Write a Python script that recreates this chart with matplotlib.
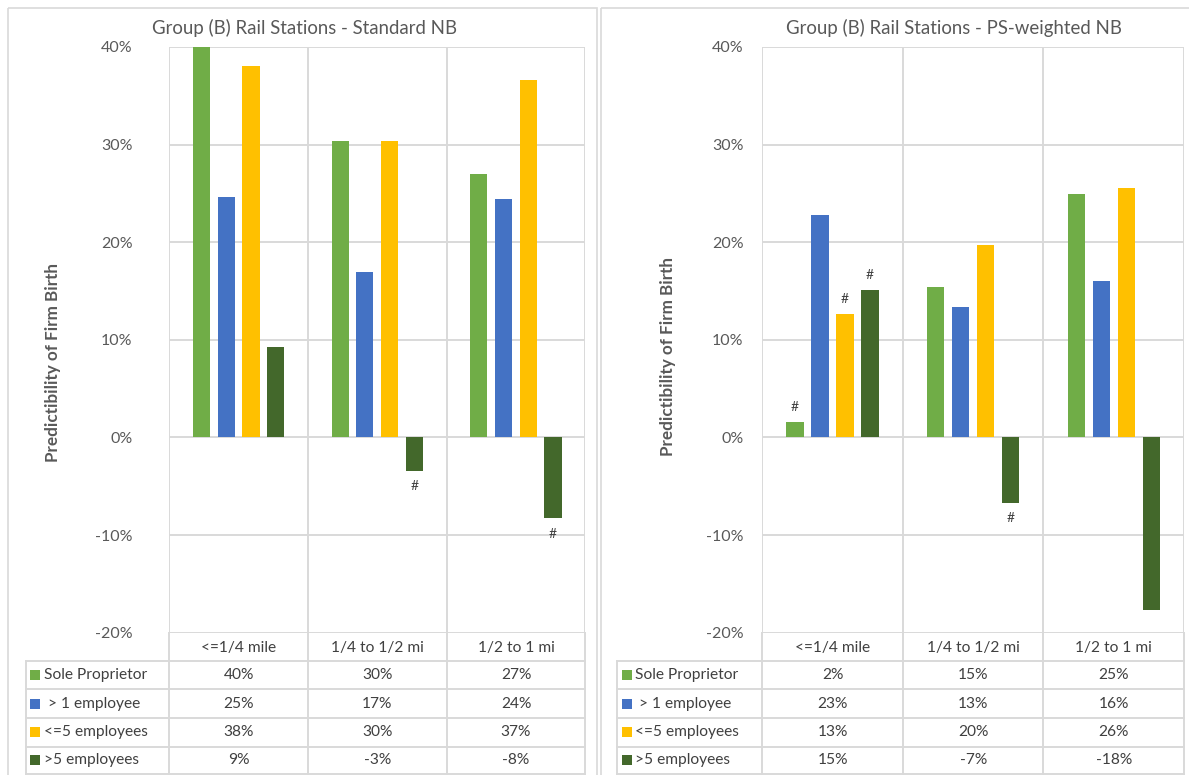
import matplotlib
matplotlib.use("Agg")
import matplotlib.pyplot as plt
from matplotlib.patches import Rectangle

# Datos (puntos porcentuales)
categories = ["<=1/4 mile", "1/4 to 1/2 mi", "1/2 to 1 mi"]
series_names = ["Sole Proprietor", " > 1 employee", "<=5 employees", ">5 employees"]
series_colors = ["#70AD47", "#4472C4", "#FFC000", "#43682B"]

# Panel izquierdo: Standard NB
std_sole = [40.0, 30.4, 27.0]
std_gt1 = [24.6, 17.0, 24.4]
std_le5 = [38.1, 30.4, 36.6]
std_gt5 = [9.3, -3.4, -8.3]
std_hash = [[False, False, False], [False, False, False],
            [False, False, False], [False, True, True]]

# Panel derecho: PS-weighted NB
ps_sole = [1.6, 15.4, 24.9]
ps_gt1 = [22.8, 13.4, 16.0]
ps_le5 = [12.6, 19.7, 25.6]
ps_gt5 = [15.1, -6.7, -17.7]
ps_hash = [[True, False, False], [False, False, False],
           [True, False, False], [True, True, False]]

W, H = 1189, 775
GRID = "#D9D9D9"
TXT = "#595959"
TBL = "#404040"
plt.rcParams["font.family"] = ["Lato", "DejaVu Sans"]

fig = plt.figure(figsize=(W / 100, H / 100), dpi=100)

# Capa de fondo en pixeles para bordes, tabla y titulos
bg = fig.add_axes([0, 0, 1, 1])
bg.set_xlim(0, W)
bg.set_ylim(H, 0)
bg.axis("off")


def px_rect(x0, y_top, x1, y_bot):
    return [x0 / W, 1 - y_bot / H, (x1 - x0) / W, (y_bot - y_top) / H]


Y_TOP, Y_BOT = 47, 632.7
ROWS = [661, 689.3, 718, 746.7, 774]
PITCH, BAR_W = 0.178, 0.123


def panel(frame_x, plot_x0, plot_x1, legend_x0, title, title_x, ylab_x, ylab_y,
          tick_pad, data, hashes):
    # marco del grafico
    bg.add_patch(Rectangle((frame_x[0], 8), frame_x[1] - frame_x[0], H + 10,
                           fill=False, ec=GRID, lw=1.2))
    bg.text(title_x, 28, title, ha="center", va="center", fontsize=13.4, color=TXT)
    bg.text(ylab_x, ylab_y, "Predictibility of Firm Birth", rotation=90,
            ha="center", va="center", fontsize=12.3, fontweight="bold", color=TXT)

    ax = fig.add_axes(px_rect(plot_x0, Y_TOP, plot_x1, Y_BOT))
    ax.set_xlim(0, 3)
    ax.set_ylim(-20, 40)
    ax.set_yticks(range(-20, 41, 10))
    ax.set_yticklabels([f"{t}%" for t in range(-20, 41, 10)], fontsize=11.5, color=TXT)
    ax.set_xticks([0, 1, 2, 3])
    ax.set_xticklabels([])
    ax.tick_params(length=0, pad=tick_pad)
    ax.grid(True, color=GRID, lw=1.4)
    ax.set_axisbelow(True)
    for s in ax.spines.values():
        s.set_visible(False)

    for k, (vals, color, flags) in enumerate(zip(data, series_colors, hashes)):
        xs = [i + 0.5 + (k - 1.5) * PITCH for i in range(len(categories))]
        ax.bar(xs, vals, width=BAR_W, color=color, zorder=3)
        for x, v, f in zip(xs, vals, flags):
            if f:
                ax.annotate("#", (x, v), xytext=(0, 11 if v > 0 else -11),
                            textcoords="offset points", ha="center", va="center",
                            fontsize=10, color=TBL)

    # tabla de datos debajo del grafico
    col_w = (plot_x1 - plot_x0) / 3
    bounds = [plot_x0 + i * col_w for i in range(4)]
    for x in bounds:
        bg.plot([x, x], [Y_BOT, H], color=GRID, lw=1.4)
    bg.plot([legend_x0, legend_x0], [ROWS[0], H], color=GRID, lw=1.4)
    for y in ROWS:
        bg.plot([legend_x0, plot_x1], [y, y], color=GRID, lw=1.4)
    for i, c in enumerate(categories):
        bg.text(bounds[i] + col_w / 2, (Y_BOT + ROWS[0]) / 2 + 1, c, ha="center",
                va="center", fontsize=11.2, color=TBL)
    for r, (name, color, vals) in enumerate(zip(series_names, series_colors, data)):
        yc = (ROWS[r] + ROWS[r + 1]) / 2
        bg.add_patch(Rectangle((legend_x0 + 4.5, yc - 5), 10, 10, color=color, lw=0))
        bg.text(legend_x0 + 18, yc, name, ha="left", va="center", fontsize=11.2, color=TBL)
        for i, v in enumerate(vals):
            bg.text(bounds[i] + col_w / 2, yc, f"{v:.0f}%", ha="center", va="center",
                    fontsize=11.2, color=TBL)


panel((8, 597), 169.3, 585.3, 25.7, "Group (B) Rail Stations - Standard NB", 305,
      53, 363, 26.5,
      [std_sole, std_gt1, std_le5, std_gt5], std_hash)
panel((601, W + 5), 762.3, 1184, 617, "Group (B) Rail Stations - PS-weighted NB", 954,
      668, 357, 13.5,
      [ps_sole, ps_gt1, ps_le5, ps_gt5], ps_hash)

fig.savefig("out.png", dpi=100, facecolor="white")
